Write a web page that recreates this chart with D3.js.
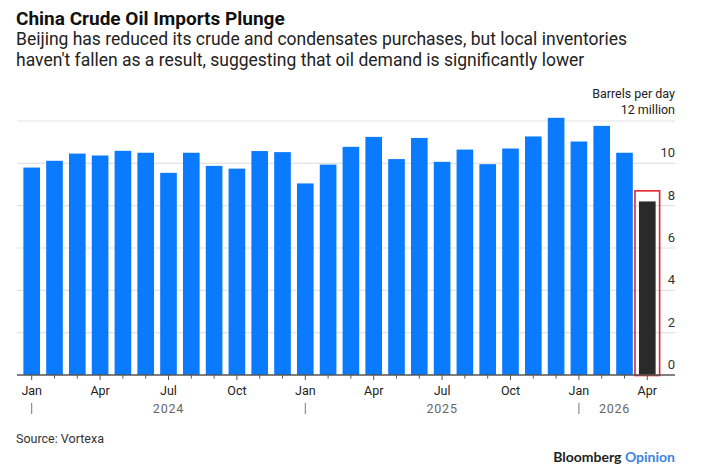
<!DOCTYPE html>
<html>
<head>
<meta charset="utf-8">
<script src="https://cdn.jsdelivr.net/npm/d3@7"></script>
<style>
  body { margin: 0; background: #fff; }
  text { font-family: "Roboto", "Liberation Sans", sans-serif; }
</style>
</head>
<body>
<div id="chart"></div>
<script>
// Monthly crude imports, million barrels per day
const periods = ["2024-01","2024-02","2024-03","2024-04","2024-05","2024-06","2024-07","2024-08","2024-09","2024-10","2024-11","2024-12",
  "2025-01","2025-02","2025-03","2025-04","2025-05","2025-06","2025-07","2025-08","2025-09","2025-10","2025-11","2025-12",
  "2026-01","2026-02","2026-03","2026-04"];
const imports = [9.80, 10.12, 10.46, 10.37, 10.59, 10.50, 9.55, 10.50, 9.88, 9.75, 10.58, 10.53,
  9.05, 9.94, 10.78, 11.25, 10.20, 11.20, 10.07, 10.65, 9.96, 10.70, 11.27, 12.15,
  11.03, 11.77, 10.50, 8.20];
const monthNames = ["Jan","Feb","Mar","Apr","May","Jun","Jul","Aug","Sep","Oct","Nov","Dec"];
const yTicks = [0, 2, 4, 6, 8, 10, 12];
const years = ["2024", "2025", "2026"];

const width = 703;
const height = 475;

const svg = d3.select("#chart")
    .append("svg")
    .attr("width", width)
    .attr("height", height);

// Titles
svg.append("text").attr("x", 16).attr("y", 25)
    .attr("font-size", 19).attr("font-weight", "bold").attr("fill", "#111")
    .text("China Crude Oil Imports Plunge");
svg.append("text").attr("x", 16).attr("y", 45)
    .attr("font-size", 17.5).attr("fill", "#222")
    .text("Beijing has reduced its crude and condensates purchases, but local inventories");
svg.append("text").attr("x", 16).attr("y", 66)
    .attr("font-size", 17.5).attr("fill", "#222")
    .text("haven't fallen as a result, suggesting that oil demand is significantly lower");

// Scales
const x = d3.scaleBand()
    .domain(periods)
    .range([20.3, 658.7])
    .paddingInner(0.27)
    .paddingOuter(0.135);

const y = d3.scaleLinear()
    .domain([0, 12])
    .range([375, 121]);

const gridRight = 675;

// Grid lines + y labels (12 is labelled by the unit note)
const grid = svg.append("g");
grid.selectAll("line")
    .data(yTicks.filter(d => d > 0))
    .enter().append("line")
    .attr("x1", 17).attr("x2", gridRight)
    .attr("y1", d => y(d)).attr("y2", d => y(d))
    .attr("stroke", "#e2e2e2").attr("stroke-width", 1.2);
grid.selectAll("text")
    .data(yTicks.filter(d => d < 12))
    .enter().append("text")
    .attr("x", gridRight).attr("y", d => y(d) - 6)
    .attr("text-anchor", "end")
    .attr("font-size", 13).attr("fill", "#333")
    .text(d => d);

svg.append("text").attr("x", gridRight).attr("y", 98)
    .attr("text-anchor", "end").attr("font-size", 12.5).attr("fill", "#222")
    .text("Barrels per day");
svg.append("text").attr("x", gridRight).attr("y", 114)
    .attr("text-anchor", "end").attr("font-size", 12.5).attr("fill", "#222")
    .text("12 million");

// Bars
const last = periods[periods.length - 1];
svg.append("g")
    .selectAll("rect")
    .data(periods)
    .enter().append("rect")
    .attr("x", d => x(d))
    .attr("width", x.bandwidth())
    .attr("y", (d, i) => y(imports[i]))
    .attr("height", (d, i) => y(0) - y(imports[i]))
    .attr("fill", d => d === last ? "#2a2a2a" : "#0a7bff");

// Highlight box around the latest month
svg.append("rect")
    .attr("x", x(last) - 4)
    .attr("width", x.bandwidth() + 8)
    .attr("y", y(8.7))
    .attr("height", y(0) - y(8.7) + 0.5)
    .attr("fill", "none")
    .attr("stroke", "#e3262b")
    .attr("stroke-width", 1.6);

// X axis
svg.append("line")
    .attr("x1", 17).attr("x2", gridRight)
    .attr("y1", y(0)).attr("y2", y(0))
    .attr("stroke", "#555").attr("stroke-width", 1.5);

const month = d => +d.slice(5) - 1;
const xa = svg.append("g");
xa.selectAll("line")
    .data(periods)
    .enter().append("line")
    .attr("x1", d => x(d) + x.bandwidth() / 2)
    .attr("x2", d => x(d) + x.bandwidth() / 2)
    .attr("y1", y(0))
    .attr("y2", d => y(0) + (month(d) % 3 === 0 ? 5 : 3.5))
    .attr("stroke", "#555").attr("stroke-width", 1);
xa.selectAll("text.month")
    .data(periods.filter(d => month(d) % 3 === 0))
    .enter().append("text")
    .attr("class", "month")
    .attr("x", d => x(d) + x.bandwidth() / 2)
    .attr("y", 395)
    .attr("text-anchor", "middle")
    .attr("font-size", 12.5).attr("fill", "#222")
    .text(d => monthNames[month(d)]);

// Year separators and labels
xa.selectAll("line.year")
    .data(periods.filter(d => month(d) === 0))
    .enter().append("line")
    .attr("class", "year")
    .attr("x1", d => x(d) + x.bandwidth() / 2)
    .attr("x2", d => x(d) + x.bandwidth() / 2)
    .attr("y1", 403).attr("y2", 414)
    .attr("stroke", "#777").attr("stroke-width", 1);
xa.selectAll("text.year")
    .data(years)
    .enter().append("text")
    .attr("class", "year")
    .attr("x", d => d === "2026"
        ? x(d + "-01") + x.bandwidth() / 2 + 20
        : x(d + "-07") + x.bandwidth() / 2)
    .attr("y", 413)
    .attr("text-anchor", d => d === "2026" ? "start" : "middle")
    .attr("font-size", 12.5).attr("fill", "#666")
    .attr("letter-spacing", 0.8)
    .text(d => d);

// Footer
svg.append("text").attr("x", 16).attr("y", 443)
    .attr("font-size", 12.5).attr("fill", "#333")
    .text("Source: Vortexa");
const brand = svg.append("text").attr("x", gridRight).attr("y", 462)
    .attr("text-anchor", "end").attr("font-size", 14).attr("font-weight", "bold")
    .style("font-family", "Lato, 'Open Sans', sans-serif");
brand.append("tspan").attr("fill", "#222").text("Bloomberg ");
brand.append("tspan").attr("fill", "#3b82e6").text("Opinion");
</script>
</body>
</html>
